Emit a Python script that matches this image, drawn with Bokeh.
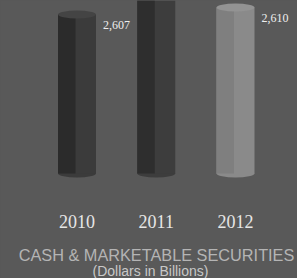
from bokeh.plotting import figure
from bokeh.models import Range1d, ColumnDataSource, GlobalInlineStyleSheet
from bokeh.core.properties import value
from bokeh.embed import file_html
from bokeh.resources import INLINE

# ---- data ----
years = ["2010", "2011", "2012"]
cash = [2.607, 2.620, 2.610]
value_labels = ["2,607", "", "2,610"]
title_text = "CASH & MARKETABLE SECURITIES"
subtitle_text = "(Dollars in Billions)"

# ---- layout / style ----
W, H = 297, 278
BG = "#595959"
body_colors = ["#3b3b3b", "#3d3d3d", "#8a8a8a"]
shade_colors = ["#2b2b2b", "#2e2e2e", "#7f7f7f"]
top_colors = ["#444444", "#454545", "#939393"]

Y_PER_PX = 0.003 / 7.0
Y_TOP = 2.613
Y_BOTTOM = Y_TOP - H * Y_PER_PX


def py(pix):
    return Y_TOP - pix * Y_PER_PX


BASE = py(173)
X_PX = 79.25
X0 = -76.5 / X_PX
BAR_W = 38 / X_PX

xs = list(range(len(years)))
src = ColumnDataSource(dict(
    x=xs, top=cash, year=years, lab=value_labels,
    body=body_colors, shade=shade_colors, topc=top_colors,
    shade_x=[x - BAR_W * 0.27 for x in xs],
    base=[BASE] * len(xs),
    year_y=[py(221)] * len(xs),
))

p = figure(width=W, height=H, x_range=Range1d(X0, X0 + W / X_PX),
           y_range=Range1d(Y_BOTTOM, Y_TOP), output_backend="svg",
           toolbar_location=None, min_border=0, background_fill_color=BG,
           border_fill_color=BG, outline_line_color=None)
p.axis.visible = False
p.grid.visible = False

# bottom ellipse
p.ellipse(x="x", y="base", width=BAR_W, height=8, height_units="screen",
          fill_color="body", line_color=None, source=src)
# cylinder body
p.vbar(x="x", bottom=BASE, top="top", width=BAR_W, fill_color="body",
       line_color=None, source=src)
# darker left side
p.vbar(x="shade_x", bottom=BASE, top="top", width=BAR_W * 0.46,
       fill_color="shade", line_color=None, source=src)
# top ellipse
p.ellipse(x="x", y="top", width=BAR_W, height=8, height_units="screen",
          fill_color="topc", line_color=None, source=src)

# value labels
p.text(x="x", y="top", text="lab", source=src, x_offset=26, y_offset=10,
       text_align="left", text_baseline="middle", text_color="#eeeeee",
       text_font=value("Liberation Serif"), text_font_size="12px")

# year labels
p.text(x="x", y="year_y", text="year", source=src, text_align="center",
       text_baseline="alphabetic", text_color="#e6e6e6",
       text_font=value("Liberation Serif"), text_font_size="18px")

# title and subtitle
p.text(x=[X0 + 156 / X_PX], y=[py(254)], text=[title_text],
       text_align="center", text_baseline="alphabetic", text_color="#b4b4b4",
       text_font=value("Liberation Sans"), text_font_size="16.3px")
p.text(x=[X0 + 150 / X_PX], y=[py(270)], text=[subtitle_text],
       text_align="center", text_baseline="alphabetic", text_color="#c8c8c8",
       text_font=value("Liberation Sans"), text_font_size="14px")

p.stylesheets = [GlobalInlineStyleSheet(
    css="html,body{margin:0;padding:0;background:#595959;overflow:hidden}")]

open("out.html", "w").write(file_html(p, INLINE))
